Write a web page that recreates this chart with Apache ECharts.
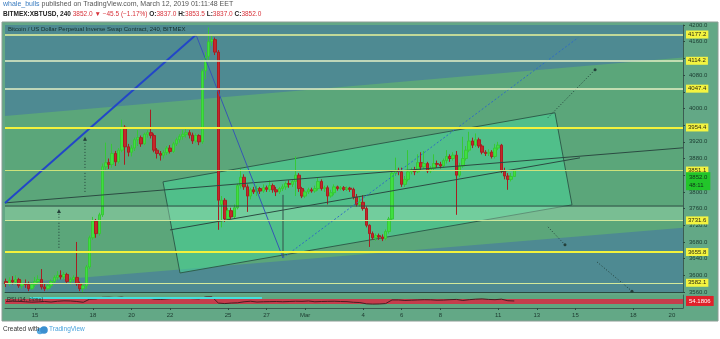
<!DOCTYPE html>
<html><head><meta charset="utf-8">
<script src="https://cdn.jsdelivr.net/npm/echarts@6/dist/echarts.min.js"></script>
<style>html,body{margin:0;padding:0;background:#fff}#c{width:720px;height:339px}</style>
</head><body><div id="c"></div>
<script>
// x unit: days since 2019-02-15 00:00 ; 4h bars starting 2019-02-13 12:00
const firstBarDay = -1.5;
const barStepDay = 1 / 6;
const xMinDay = -1.554, xMaxDay = 33.575;

const opens = [3585,3580,3588,3584,3590,3575,3580,3578,3568,3578,3585,3590,3572,3568,3575,3585,3595,3600,3596,3602,3585,3590,3595,3580,3568,
3575,3620,3690,3730,3700,3745,3860,3870,3866,3892,3872,3900,3955,3908,3895,3905,3925,3930,3915,3938,3942,3935,3900,3892,3888,3894,3905,3897,3915,3925,3933,3938,3942,3936,3922,3935,
3920,4090,4125,4160,4165,4135,3770,3780,3735,3755,3740,3762,3815,3835,3812,3790,3805,3800,3808,3802,3810,3806,3815,3805,3800,3808,3812,3820,3818,3825,3840,3808,3790,3800,3805,3802,3808,3825,3808,3810,
3790,3798,3812,3808,3810,3806,3809,3806,3788,3770,3775,3760,3720,3700,3690,3695,3692,3688,3705,3735,3845,3852,3848,3818,3830,3848,3852,3848,3870,3860,3868,3850,3856,3868,3866,3862,3875,3885,3880,
3888,3840,3862,3880,3900,3922,3912,3925,3910,3895,3892,3895,3885,3905,3912,3850,3838,3830,3837];
const closes = [3580,3588,3584,3590,3575,3580,3578,3568,3578,3585,3590,3572,3568,3575,3585,3595,3600,3596,3602,3585,3590,3595,3580,3568,3575,
3620,3690,3730,3700,3745,3860,3870,3866,3892,3872,3900,3955,3908,3895,3905,3925,3930,3915,3938,3942,3935,3900,3892,3888,3894,3905,3897,3915,3925,3933,3938,3942,3936,3922,3935,3920,
4090,4125,4160,4165,4135,3780,3780,3735,3755,3740,3762,3815,3835,3812,3790,3805,3800,3808,3802,3810,3806,3815,3805,3800,3808,3812,3820,3818,3825,3840,3808,3790,3800,3805,3802,3808,3825,3808,3810,3790,
3798,3812,3808,3810,3806,3809,3806,3788,3770,3775,3760,3720,3700,3690,3695,3692,3688,3705,3735,3845,3852,3848,3818,3830,3848,3852,3848,3870,3860,3868,3850,3856,3868,3866,3862,3875,3885,3880,3888,
3840,3862,3880,3900,3922,3912,3925,3910,3895,3892,3895,3885,3905,3912,3850,3838,3830,3837,3852];
const lows = [3572,3575,3578,3578,3570,3568,3570,3562,3565,3572,3578,3566,3562,3564,3570,3580,3588,3590,3590,3580,3578,3584,3575,3562,3560,
3568,3615,3685,3690,3695,3740,3852,3855,3858,3862,3868,3895,3865,3885,3885,3898,3910,3908,3912,3930,3928,3895,3880,3875,3880,3888,3892,3893,3910,3918,3925,3930,3928,3915,3918,3912,
3915,4070,4115,4150,4128,3709,3715,3728,3730,3735,3736,3758,3808,3805,3752,3782,3795,3790,3795,3798,3800,3800,3798,3790,3795,3802,3805,3810,3812,3790,3800,3785,3785,3795,3798,3798,3803,3803,3800,3770,
3786,3792,3803,3804,3802,3802,3800,3782,3765,3765,3755,3715,3668,3685,3683,3685,3682,3684,3700,3730,3838,3840,3812,3812,3825,3842,3840,3845,3852,3855,3845,3845,3850,3858,3856,3858,3868,3872,3875,
3745,3835,3858,3875,3895,3905,3908,3905,3890,3886,3886,3880,3880,3900,3845,3830,3805,3825,3837];
const highs = [3592,3595,3598,3600,3594,3588,3590,3585,3584,3596,3600,3615,3580,3582,3590,3600,3610,3612,3608,3606,3595,3600,3680,3585,3580,
3625,3695,3740,3735,3750,3868,3918,3880,3915,3898,3905,3973,3960,3915,3912,3930,3948,3935,3942,3948,3997,3940,3905,3898,3900,3910,3912,3920,3930,3938,3948,3955,3948,3942,3940,3938,
4095,4135,4194,4175,4170,4140,3790,3785,3762,3762,3770,3820,3855,3842,3818,3810,3812,3815,3812,3818,3815,3828,3820,3812,3812,3818,3825,3828,3830,3885,3845,3812,3805,3810,3810,3815,3835,3830,3815,3815,
3805,3818,3815,3814,3814,3813,3812,3810,3795,3790,3792,3765,3722,3705,3700,3700,3698,3710,3740,3850,3882,3858,3858,3838,3900,3858,3860,3890,3895,3898,3872,3862,3890,3875,3872,3880,3900,3890,3895,
3898,3870,3932,3910,3944,3930,3940,3930,3914,3900,3902,3900,3915,3920,3915,3858,3845,3845,3853.5];

// RSI(14) read every 8h (every second bar)
const rsiValues = [50,52,51,48,45,47,50,46,52,55,54,50,44,
68,70,82,83,80,84,74,76,
77,79,68,66,70,74,76,75,72,70,
85,86,38,
34,38,40,48,52,46,48,49,50,48,50,52,51,54,48,50,51,52,50,49,44,42,
32,30,31,34,62,
62,58,60,62,64,63,60,61,64,66,58,64,68,70,66,64,68,56,54];
const rsiLast = '54.1806';

// horizontal levels (right-axis labels)
const levelValues = [4177.2, 4114.2, 4047.4, 3954.4, 3851.1, 3731.6, 3655.8, 3582.1];
const levelLabels = ['4177.2','4114.2','4047.4','3954.4','3851.1','3731.6','3655.8','3582.1'];
const levelColors = ['#e9f39a','#e4efc4','#e4efc4','#f2f23c','#cde27a','#cfe79a','#f2f23c','#d3e99a'];
const levelWidths = [1.5,1.5,1.5,2,1,1,2,1];
const lastPrice = 3852.0, lastPriceLabel = '3852.0\n48:11';

// x axis tick labels
const xTickDays = [0,3,5,7,10,12,14,17,19,21,24,26,28,31,33];
const xTickLabels = ['15','18','20','22','25','27','Mar','4','6','8','11','13','15','18','20'];

// drawings, anchored in (day, price)
const bigChannel = [[-1.554,3982],[33.575,4122],[33.575,3714],[-1.554,3579]];
const lightBand = [[-1.554,3766],[33.575,3766],[33.575,3731.6],[-1.554,3731.6]];
const rotRect = [[6.632,3824],[26.943,3989.6],[27.824,3768.8],[7.513,3605.6]];
const lineA = [[-1.554,3773.6],[33.575,3905.6]];
const midLine = [[6.995,3708.8],[28.238,3881.6]];
const flatLine = [[-1.554,3766],[33.575,3766]];
const blueUp = [[-1.554,3773.6],[8.342,4176.8]];
const blueDown = [[8.342,4176.8],[12.85,3641.6]];
const vertLine = [[12.85,3792.8],[12.85,3641.6]];
const blueDotted = [[12.85,3641.6],[28.14,4169.6]];
const arrow1 = [[2.59,3800],[2.59,3925]];
const arrow2 = [[1.24,3666],[1.24,3752]];
const proj1 = [[26.58,3978],[29.02,4093]];
const proj2 = [[26.58,3716],[27.46,3673]];
const proj3 = [[29.12,3632],[30.93,3562]];
const rsiCyan = [[-0.26,77],[11.76,77]];

const candleData = opens.map((o, i) => [firstBarDay + i * barStepDay, o, closes[i], lows[i], highs[i]]);
const rsiData = rsiValues.map((v, k) => [firstBarDay + 2 * k * barStepDay, v]);

const fills = [
  {kind:'poly', pts: bigChannel, fill:'#5ba67a'},
  {kind:'poly', pts: rotRect, fill:'rgba(72,208,150,0.58)', stroke:'#2f5f4c'},
  {kind:'poly', pts: lightBand, fill:'rgba(170,230,190,0.38)'}
];
const DK = '#2b4b42';
const lines = [
  {kind:'line', pts: lineA, stroke: DK, w: 1},
  {kind:'line', pts: midLine, stroke: DK, w: 1},
  {kind:'line', pts: flatLine, stroke: DK, w: 1},
  {kind:'line', pts: vertLine, stroke: '#34504a', w: 1},
  {kind:'line', pts: blueUp, stroke: '#2246c8', w: 2},
  {kind:'line', pts: blueDown, stroke: '#3656b4', w: 1},
  {kind:'line', pts: blueDotted, stroke: '#2f6cc4', w: 1, dash:[2,2]},
  {kind:'line', pts: arrow1, stroke: '#24403a', w: 1, dash:[1,2], head:'up'},
  {kind:'line', pts: arrow2, stroke: '#24403a', w: 1, dash:[1,2], head:'up'},
  {kind:'line', pts: proj1, stroke: '#24403a', w: 1, dash:[1,2], head:'dot'},
  {kind:'line', pts: proj2, stroke: '#24403a', w: 1, dash:[1,2], head:'dot'},
  {kind:'line', pts: proj3, stroke: '#24403a', w: 1, dash:[1,2], head:'dot'}
];
const rsiLines = [{kind:'line', pts: rsiCyan, stroke:'#45dede', w: 2}];

function shapeSeries(shapes, z, gi, yPlace) {
  return {
    type: 'custom', xAxisIndex: gi, yAxisIndex: gi, z: z, silent: true,
    data: shapes.map(() => [10, yPlace]), encode: {x: 0, y: 1},
    renderItem: function (params, api) {
      const s = shapes[params.dataIndex];
      const pts = s.pts.map(p => api.coord(p));
      if (s.kind === 'poly') {
        return {type:'polygon', shape:{points: pts}, style:{fill: s.fill, stroke: s.stroke || null, lineWidth: 1}};
      }
      const children = [{type:'polyline', shape:{points: pts}, style:{stroke: s.stroke, lineWidth: s.w, lineDash: s.dash || null, fill: null}}];
      const t = pts[pts.length - 1];
      if (s.head === 'up') children.push({type:'polygon', shape:{points:[[t[0],t[1]-3],[t[0]-2,t[1]+1],[t[0]+2,t[1]+1]]}, style:{fill: s.stroke}});
      if (s.head === 'dot') children.push({type:'circle', shape:{cx:t[0], cy:t[1], r:1.5}, style:{fill: s.stroke}});
      return {type:'group', children: children};
    }
  };
}

const FONT = '"Liberation Sans", Arial, sans-serif';
const hideLabel = v => levelValues.some(l => Math.abs(l - v) < 10) || (v > 3815 && v < 3853);
const NONE = 'rgba(0,0,0,0)';

const chart = echarts.init(document.getElementById('c'), null, {renderer: 'canvas'});
chart.setOption({
  animation: false,
  backgroundColor: '#ffffff',
  textStyle: {fontFamily: FONT},
  graphic: [
    {type:'rect', z:-10, shape:{x:2, y:22, width:716, height:299}, style:{fill:'#63a886', stroke:'#8c9c94', lineWidth:1}},
    {type:'text', z:50, left:3, top:1, style:{text:'{u|whale_bulls} published on TradingView.com, March 12, 2019 01:11:48 EET', font:'7px ' + FONT, fill:'#555',
      rich:{u:{fill:'#3a7cc0', font:'7px ' + FONT}}}},
    {type:'text', z:50, left:3, top:11, style:{text:'{b|BITMEX:XBTUSD, 240} {r|3852.0 \u25BC \u221245.5 (\u22121.17%)} {b|O:}{r|3837.0} {b|H:}{r|3853.5} {b|L:}{r|3837.0} {b|C:}{r|3852.0}',
      font:'bold 6.5px ' + FONT, fill:'#222',
      rich:{b:{fill:'#222', font:'bold 6.5px ' + FONT}, r:{fill:'#d8323a', font:'6.5px ' + FONT}}}},
    {type:'text', z:50, left:8, top:26, style:{text:'Bitcoin / US Dollar Perpetual Inverse Swap Contract, 240, BITMEX', font:'6px ' + FONT, fill:'#17302c'}},
    {type:'text', z:50, left:7, top:296, style:{text:'RSI (14, close)', font:'5.5px ' + FONT, fill:'#1e2e28'}},
    {type:'circle', z:50, shape:{cx:40, cy:331, r:3.2}, style:{fill:'#56a9e0'}},
    {type:'circle', z:50, shape:{cx:44, cy:330, r:3.8}, style:{fill:'#3b8fd0'}},
    {type:'text', z:50, left:3, top:326, style:{text:'Created with', font:'6.5px ' + FONT, fill:'#333'}},
    {type:'text', z:50, left:49, top:326, style:{text:'TradingView', font:'6.5px ' + FONT, fill:'#4aa3dc'}}
  ],
  grid: [
    {left:5, right:37, top:25, height:267, show:true, backgroundColor:'#4e8a92', borderWidth:0},
    {left:5, right:37, top:295, height:13, show:true, backgroundColor:'#5fa680', borderWidth:0}
  ],
  xAxis: [
    {type:'value', gridIndex:0, min:xMinDay, max:xMaxDay, axisLabel:{show:false}, axisTick:{show:false}, splitLine:{show:false},
     axisLine:{show:true, onZero:false, lineStyle:{color:'#2c4a40', width:1}}},
    {type:'value', gridIndex:1, min:xMinDay, max:xMaxDay, splitLine:{show:false},
     axisLine:{show:true, onZero:false, lineStyle:{color:'#3a5a50', width:1}},
     axisTick:{show:true, customValues: xTickDays, length:2, lineStyle:{color:'#2c4a40'}},
     axisLabel:{customValues: xTickDays, fontSize:6, color:'#1d3a30', margin:4,
       formatter: v => { const k = xTickDays.indexOf(v); return k >= 0 ? xTickLabels[k] : ''; }}}
  ],
  yAxis: [
    {type:'value', gridIndex:0, position:'right', min:3560, max:4200, interval:40, splitLine:{show:false},
     axisLine:{show:true, onZero:false, lineStyle:{color:'#3c5c52'}}, axisTick:{show:true, length:2, lineStyle:{color:'#2c4a40'}},
     axisLabel:{fontSize:6, color:'#1b3a30', margin:6, formatter: v => hideLabel(v) ? '' : v.toFixed(1)}},
    {type:'value', gridIndex:1, position:'right', min:0, max:100, splitLine:{show:false},
     axisLine:{show:true, onZero:false, lineStyle:{color:'#3c5c52'}}, axisTick:{show:false}, axisLabel:{show:false}}
  ],
  series: [
    shapeSeries(fills, 1, 0, 3800),
    {
      type:'candlestick', xAxisIndex:0, yAxisIndex:0, z:3, barWidth:3,
      data: candleData, encode:{x:0, y:[1,2,3,4]},
      itemStyle:{color:'#3fe040', color0:'#c4282b', borderColor:'#36c836', borderColor0:'#a81e22', borderWidth:1},
      markLine:{
        silent:true, symbol:'none', animation:false,
        data: levelValues.map((v, k) => ({
          yAxis: v,
          lineStyle:{color: levelColors[k], width: levelWidths[k], type:'solid'},
          label:{show:true, position:'end', distance:3, formatter: levelLabels[k], backgroundColor:'#f4f440',
                 color:'#2a2a10', fontSize:6, padding:[1,2,1,2], fontFamily: FONT}
        })).concat([{
          yAxis: lastPrice, lineStyle:{color: NONE, width: 0},
          label:{show:true, position:'end', distance:3, offset:[0,11], formatter: lastPriceLabel, backgroundColor:'#22c52a',
                 color:'#10301a', fontSize:6, lineHeight:8, padding:[1,3,1,3], fontFamily: FONT}
        }])
      }
    },
    shapeSeries(lines, 4, 0, 3800),
    {
      type:'line', xAxisIndex:1, yAxisIndex:1, z:3, data: rsiData, showSymbol:false, smooth:false,
      lineStyle:{color:'#4a1c22', width:1},
      markArea:{silent:true, itemStyle:{color:'rgba(206,52,72,0.92)'}, data:[[{yAxis:30},{yAxis:70}]]},
      markLine:{silent:true, symbol:'none', data:[{yAxis: 54.18, lineStyle:{color: NONE, width: 0},
        label:{show:true, position:'end', distance:3, formatter: rsiLast, backgroundColor:'#e0212a', color:'#fff',
               fontSize:6, padding:[2,3,2,3], fontFamily: FONT}}]}
    },
    shapeSeries(rsiLines, 4, 1, 50)
  ]
});
</script></body></html>
